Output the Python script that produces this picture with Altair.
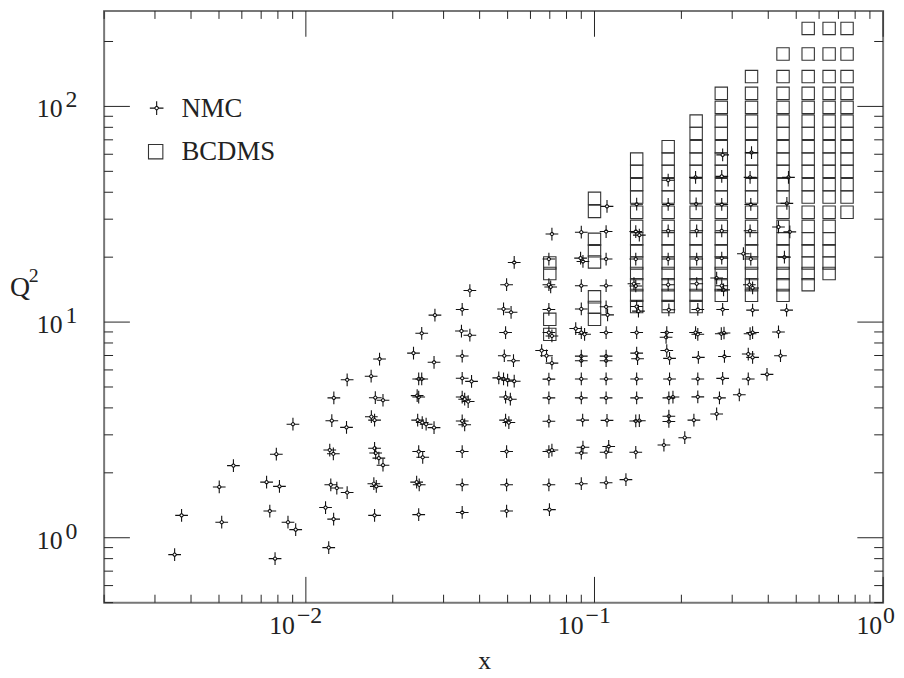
import altair as alt
import pandas as pd

# ---------------- data ----------------
nmc_x = [0.00351, 0.00371, 0.00501, 0.00511, 0.00561, 0.00731, 0.0075, 0.00782, 0.0079, 0.0081,
         0.00867, 0.00902, 0.00922, 0.0117, 0.0120, 0.0121, 0.0122, 0.0123, 0.01245, 0.01248,
         0.0125, 0.0128, 0.01383, 0.0139, 0.0139, 0.01683, 0.01686, 0.0172, 0.0173, 0.0173,
         0.0173, 0.0174, 0.01745, 0.01754, 0.0179, 0.0180, 0.0185, 0.0185, 0.0236, 0.0243,
         0.0246, 0.0244, 0.0242, 0.0246, 0.0246, 0.0246, 0.0247, 0.0252, 0.0252, 0.0253,
         0.0254, 0.0261, 0.0278, 0.0278, 0.0280, 0.0348, 0.0346, 0.0348, 0.0348, 0.0348,
         0.0355, 0.0365, 0.0348, 0.0355, 0.0348, 0.0348, 0.0348, 0.0370, 0.0370, 0.0375,
         0.0466, 0.0484, 0.0500, 0.0527, 0.0484, 0.0487, 0.0496, 0.0492, 0.0492, 0.0511,
         0.0492, 0.0505, 0.0496, 0.0496, 0.0496, 0.0514, 0.0524, 0.0527, 0.0656, 0.0682,
         0.0712, 0.0695, 0.0695, 0.0705, 0.0695, 0.0695, 0.0712, 0.0695, 0.0695, 0.0695,
         0.0695, 0.0712, 0.0695, 0.0698, 0.0712, 0.0861, 0.0900, 0.0924, 0.0900, 0.0895,
         0.0912, 0.0900, 0.0900, 0.0900, 0.0900, 0.0900, 0.0900, 0.0910, 0.0912, 0.0900,
         0.0900, 0.1097, 0.1105, 0.1097, 0.1097, 0.1097, 0.1110, 0.1097, 0.1097, 0.1097,
         0.1097, 0.1097, 0.1105, 0.1120, 0.1097, 0.1097, 0.1285, 0.139, 0.143, 0.140,
         0.139, 0.137, 0.139, 0.140, 0.142, 0.140, 0.140, 0.141, 0.140, 0.140,
         0.139, 0.143, 0.139, 0.174, 0.180, 0.180, 0.180, 0.180, 0.180, 0.181,
         0.178, 0.177, 0.178, 0.182, 0.182, 0.181, 0.187, 0.181, 0.181, 0.2055,
         0.221, 0.224, 0.225, 0.226, 0.226, 0.226, 0.228, 0.224, 0.228, 0.229,
         0.228, 0.228, 0.265, 0.271, 0.278, 0.276, 0.276, 0.276, 0.276, 0.265,
         0.276, 0.280, 0.278, 0.275, 0.281, 0.282, 0.278, 0.3175, 0.328, 0.341,
         0.341, 0.346, 0.350, 0.348, 0.346, 0.348, 0.344, 0.353, 0.353, 0.346,
         0.353, 0.353, 0.396, 0.434, 0.434, 0.441, 0.455, 0.464, 0.470, 0.475,
         0.463]
nmc_q2 = [0.835, 1.27, 1.72, 1.18, 2.16, 1.81, 1.33, 0.80, 2.44, 1.73,
          1.18, 3.36, 1.09, 1.38, 0.90, 2.55, 1.76, 3.49, 2.45, 1.22,
          4.45, 1.70, 3.25, 5.40, 1.62, 5.61, 3.64, 1.78, 1.27, 3.51,
          2.60, 4.46, 2.47, 1.73, 2.34, 6.74, 4.34, 2.17, 7.18, 4.56,
          4.49, 3.51, 1.81, 2.51, 5.45, 1.28, 1.76, 5.45, 8.87, 3.42,
          2.36, 3.36, 6.51, 3.24, 10.77, 11.44, 9.09, 6.96, 5.49, 4.49,
          4.39, 4.28, 3.48, 3.34, 2.51, 1.76, 1.31, 14.0, 8.69, 5.31,
          5.51, 5.45, 5.38, 5.32, 11.5, 6.98, 14.9, 8.94, 4.49, 4.39,
          3.51, 3.42, 2.51, 1.76, 1.33, 11.1, 6.62, 18.9, 7.38, 6.98,
          6.45, 19.6, 14.9, 14.55, 11.44, 8.94, 8.62, 5.44, 4.45, 3.47,
          2.51, 2.55, 1.76, 1.35, 25.6, 9.33, 8.94, 8.78, 26.1, 19.8,
          19.1, 14.75, 11.5, 6.95, 6.62, 5.45, 4.45, 3.51, 2.63, 2.47,
          1.78, 26.3, 34.4, 19.6, 14.75, 11.77, 10.8, 8.94, 6.95, 6.62,
          5.45, 4.45, 3.50, 2.65, 2.49, 1.80, 1.86, 26.3, 25.3, 35.2,
          19.6, 15.06, 14.7, 11.8, 11.24, 8.94, 7.18, 6.76, 5.45, 4.45,
          3.48, 3.49, 2.49, 2.69, 45.5, 35.1, 26.5, 19.6, 14.9, 11.4,
          8.94, 8.5, 7.38, 6.79, 5.45, 4.45, 4.49, 3.66, 3.46, 2.91,
          3.51, 46.9, 35.3, 26.5, 19.6, 15.06, 11.44, 8.94, 8.78, 6.86,
          5.45, 4.5, 3.75, 4.45, 59.6, 47.4, 35.1, 26.5, 19.8, 16.0,
          14.75, 14.1, 11.44, 8.83, 8.9, 6.93, 5.48, 4.6, 20.75, 7.11,
          5.45, 46.9, 61.1, 35.1, 26.5, 19.6, 14.9, 14.4, 11.36, 8.83,
          8.94, 6.86, 5.72, 27.6, 9.0, 6.98, 20.0, 35.5, 46.9, 26.2,
          11.36]

bcdms_columns = {
    0.07: [18.8, 16.8, 10.3, 8.77],
    0.10: [37.5, 32.6, 24.2, 21.4, 19.0, 13.1, 11.7, 10.3],
    0.14: [57, 50, 43.4, 38, 32.3, 27.8, 24.3, 21.4, 18.8, 16.8, 14.9, 13.3, 11.8],
    0.18: [65, 57, 50, 43.4, 38, 32.3, 27.8, 24.3, 21.4, 18.8, 16.8, 14.9, 13.3, 11.8],
    0.225: [85.5, 75, 65, 57, 50, 43.4, 38, 32.3, 27.8, 24.3, 21.4, 18.8, 16.8, 14.9, 13.3, 11.8],
    0.275: [115, 99, 85.5, 75, 65, 57, 50, 43.4, 38, 32.3, 27.8, 24.3, 21.4, 18.8, 16.8, 14.9, 13.3],
    0.35: [137.5, 115, 99, 85.5, 75, 65, 57, 50, 43.4, 38, 32.3, 27.8, 24.3, 21.4, 18.8, 16.8, 14.9, 13.3],
    0.45: [175, 137.5, 115, 99, 85.5, 75, 65, 57, 50, 43.4, 38, 32.3, 27.8, 24.3, 21.4, 18.8, 16.8, 14.9, 13.3],
    0.55: [230, 175, 137.5, 115, 99, 85.5, 75, 65, 57, 50, 43.4, 38, 32.3, 27.8, 24.3, 21.4, 18.8, 16.8, 14.9],
    0.65: [230, 175, 137.5, 115, 99, 85.5, 75, 65, 57, 50, 43.4, 38, 32.3, 27.8, 24.3, 21.4, 18.8, 16.8],
    0.75: [230, 175, 137.5, 115, 99, 85.5, 75, 65, 57, 50, 43.4, 38, 32.3],
}

x_minor_ticks = [0.002, 0.003, 0.004, 0.005, 0.006, 0.007, 0.008, 0.009,
                 0.02, 0.03, 0.04, 0.05, 0.06, 0.07, 0.08, 0.09,
                 0.2, 0.3, 0.4, 0.5, 0.6, 0.7, 0.8, 0.9]
x_major_ticks = [0.01, 0.1, 1.0]
y_minor_ticks = [0.5, 0.6, 0.7, 0.8, 0.9, 2, 3, 4, 5, 6, 7, 8, 9,
                 20, 30, 40, 50, 60, 70, 80, 90, 200]
y_major_ticks = [1, 10, 100]
x_label_neg_values = [0.01, 0.1]
x_label_neg_exps = ["\u22122", "\u22121"]
x_label_zero_values = [1.0]
x_label_zero_exps = ["0"]
y_label_values = [1, 10, 100]
y_label_exps = ["0", "1", "2"]
legend_labels = ["NMC", "BCDMS"]

# ---------------- chart ----------------
W, H = 786, 597
FONT = "Liberation Serif"
INK = "#222222"
# four thin arms around a small hollow diamond
STAR = ("M0,-1L0,-0.32M0,0.32L0,1M-1,0L-0.32,0M0.32,0L1,0"
        "M0,-0.32L0.32,0L0,0.32L-0.32,0Z")

xs = alt.Scale(type="log", domain=[0.002, 1.0])
ys = alt.Scale(type="log", domain=[0.5, 277])

nmc_df = pd.DataFrame({"x": nmc_x, "q2": nmc_q2})
bc_rows = [(xv, q) for xv, qs in bcdms_columns.items() for q in qs]
bc_df = pd.DataFrame(bc_rows, columns=["x", "q2"])

X = alt.X("x:Q", scale=xs, axis=None)
Y = alt.Y("q2:Q", scale=ys, axis=None)

bcdms = alt.Chart(bc_df).mark_point(shape="square", size=156, filled=False,
                                    stroke="#333333", strokeWidth=1.1, opacity=1).encode(x=X, y=Y)
nmc = alt.Chart(nmc_df).mark_point(shape=STAR, size=165, filled=False,
                                   stroke="#111111", strokeWidth=1.1, opacity=1).encode(x=X, y=Y)

def xticks(vals, length):
    d = pd.DataFrame({"v": vals})
    xe = alt.X("v:Q", scale=xs, axis=None)
    b = alt.Chart(d).mark_rule(color=INK, strokeWidth=1).encode(
        x=xe, y=alt.value(H), y2=alt.value(H - length))
    t = alt.Chart(d).mark_rule(color=INK, strokeWidth=1).encode(
        x=xe, y=alt.value(0), y2=alt.value(length))
    return [b, t]

def yticks(vals, length):
    d = pd.DataFrame({"v": vals})
    ye = alt.Y("v:Q", scale=ys, axis=None)
    l = alt.Chart(d).mark_rule(color=INK, strokeWidth=1).encode(
        y=ye, x=alt.value(0), x2=alt.value(length))
    r = alt.Chart(d).mark_rule(color=INK, strokeWidth=1).encode(
        y=ye, x=alt.value(W), x2=alt.value(W - length))
    return [l, r]

ticks = xticks(x_minor_ticks, 8) + xticks(x_major_ticks, 26) + \
        yticks(y_minor_ticks, 9) + yticks(y_major_ticks, 26)

LBL = 26

def xlabels(vals, exps, dx_base, dx_exp):
    d = pd.DataFrame({"v": vals, "e": exps})
    xe = alt.X("v:Q", scale=xs, axis=None)
    base = alt.Chart(d).mark_text(font=FONT, fontSize=LBL, align="right", baseline="middle",
                                  dx=dx_base, color=INK, text="10").encode(
        x=xe, y=alt.value(H + 24))
    ex = alt.Chart(d).mark_text(font=FONT, fontSize=LBL - 2, align="left", baseline="middle",
                                dx=dx_exp, color=INK).encode(
        x=xe, y=alt.value(H + 14), text="e:N")
    return [base, ex]

def ylabels():
    d = pd.DataFrame({"v": y_label_values, "e": y_label_exps})
    ye = alt.Y("v:Q", scale=ys, axis=None)
    base = alt.Chart(d).mark_text(font=FONT, fontSize=LBL, align="right", baseline="middle",
                                  dy=3, color=INK, text="10").encode(
        x=alt.value(-42), y=ye)
    ex = alt.Chart(d).mark_text(font=FONT, fontSize=LBL - 2, align="left", baseline="middle",
                                dy=-6, color=INK).encode(
        x=alt.value(-39), y=ye, text="e:N")
    return [base, ex]

labels = xlabels(x_label_neg_values, x_label_neg_exps, -11, -9) + \
         xlabels(x_label_zero_values, x_label_zero_exps, -1, 0) + ylabels()

one = pd.DataFrame({"k": [0]})
leg_star = alt.Chart(one).mark_point(shape=STAR, size=190, filled=False, stroke="#111111",
                                     strokeWidth=1.1, opacity=1).encode(
    x=alt.value(53), y=alt.value(98))
leg_sq = alt.Chart(one).mark_point(shape="square", size=210, filled=False, stroke="#333333",
                                   strokeWidth=1.1, opacity=1).encode(
    x=alt.value(52), y=alt.value(142))
leg_t1 = alt.Chart(one).mark_text(font=FONT, fontSize=27, align="left", baseline="middle",
                                  color=INK, text=legend_labels[0]).encode(
    x=alt.value(78), y=alt.value(99))
leg_t2 = alt.Chart(one).mark_text(font=FONT, fontSize=27, align="left", baseline="middle",
                                  color=INK, text=legend_labels[1]).encode(
    x=alt.value(78), y=alt.value(142))

title_x = alt.Chart(one).mark_text(font=FONT, fontSize=26, align="center", baseline="bottom",
                                   color=INK, text="x").encode(
    x=alt.value(384), y=alt.value(669))
title_q = alt.Chart(one).mark_text(font=FONT, fontSize=28, align="center", baseline="middle",
                                   color=INK, text="Q").encode(
    x=alt.value(-85), y=alt.value(280))
title_q2 = alt.Chart(one).mark_text(font=FONT, fontSize=20, align="center", baseline="middle",
                                    color=INK, text="2").encode(
    x=alt.value(-71), y=alt.value(267))

chart = alt.layer(
    bcdms, nmc, *ticks, *labels, leg_star, leg_sq, leg_t1, leg_t2, title_x, title_q, title_q2
).properties(
    width=W, height=H,
    autosize=alt.AutoSizeParams(type="none"),
    padding={"left": 97, "top": 0, "right": 13, "bottom": 73},
    background="white",
).configure_view(stroke="#777777", strokeWidth=2)

chart.save("out.html", embed_options={"renderer": "svg", "actions": False})
